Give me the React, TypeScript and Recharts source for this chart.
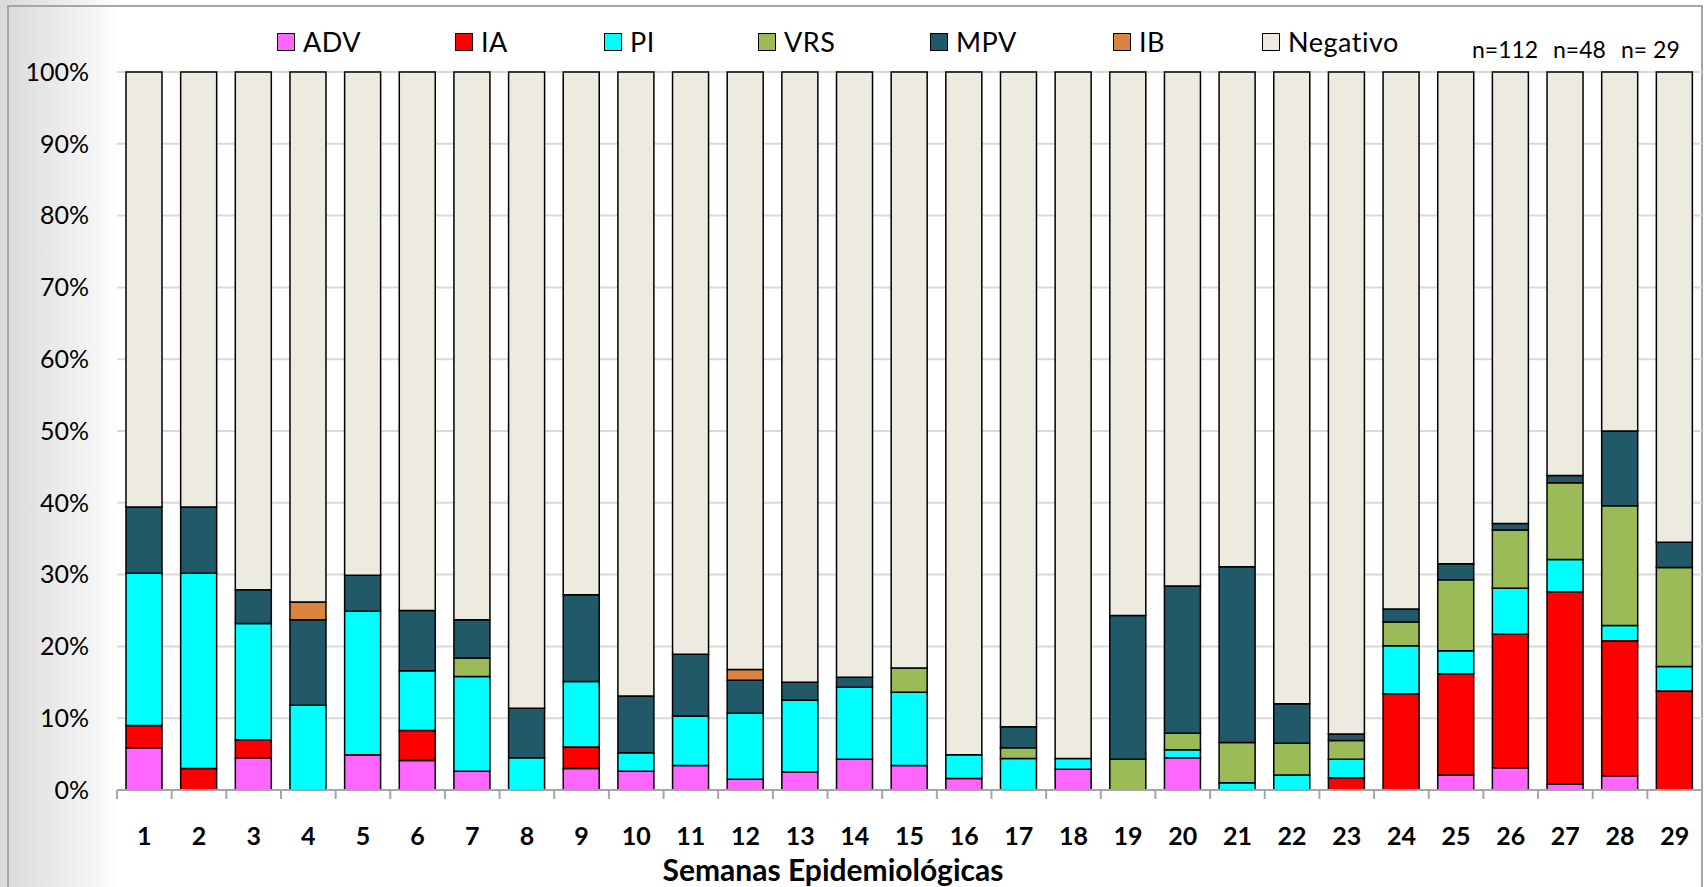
import React from 'react';
import { BarChart, Bar, XAxis, YAxis, CartesianGrid } from 'recharts';

const weeks = ['1','2','3','4','5','6','7','8','9','10','11','12','13','14','15','16','17','18','19','20','21','22','23','24','25','26','27','28','29'];
const adv = [5.9,0,4.5,0,4.9,4.1,2.6,0,3.0,2.6,3.4,1.5,2.5,4.3,3.4,1.6,0,2.9,0,4.5,0,0,0,0,2.1,3.1,0.8,2.0,0];
const ia = [3.1,3.0,2.5,0,0,4.2,0,0,3.0,0,0,0,0,0,0,0,0,0,0,0,0,0,1.7,13.4,14.1,18.6,26.8,18.8,13.8];
const pi = [21.2,27.2,16.2,11.8,20.0,8.3,13.2,4.5,9.1,2.6,6.9,9.2,10.0,10.0,10.2,3.3,4.4,1.5,0,1.1,1.0,2.1,2.6,6.7,3.2,6.4,4.5,2.1,3.4];
const vrs = [0,0,0,0,0,0,2.6,0,0,0,0,0,0,0,3.4,0,1.5,0,4.3,2.3,5.6,4.4,2.6,3.3,9.9,8.1,10.7,16.7,13.8];
const mpv = [9.2,9.2,4.7,11.9,5.0,8.4,5.3,6.9,12.1,7.9,8.6,4.6,2.5,1.4,0,0,2.9,0,20.0,20.5,24.5,5.5,0.9,1.8,2.2,0.9,1.0,10.4,3.5];
const ib = [0,0,0,2.5,0,0,0,0,0,0,0,1.5,0,0,0,0,0,0,0,0,0,0,0,0,0,0,0,0,0];
const negativo = [60.6,60.6,72.1,73.8,70.1,75.0,76.3,88.6,72.8,86.9,81.1,83.2,85.0,84.3,83.0,95.1,91.2,95.6,75.7,71.6,68.9,88.0,92.2,74.8,68.5,62.9,56.2,50.0,65.5];
const yTicks = [0,10,20,30,40,50,60,70,80,90,100];
const nLabels = ['n=112','n=48','n= 29'];

const seriesNames = ['ADV','IA','PI','VRS','MPV','IB','Negativo'];
const seriesValues = [adv, ia, pi, vrs, mpv, ib, negativo];
const seriesColors = ['#FF66FF','#FF0000','#00FFFF','#9BBB59','#215968','#DA8440','#EDEBE0'];

const data = weeks.map((w, i) => {
  const row: any = { week: w };
  seriesNames.forEach((s, k) => { row[s] = seriesValues[k][i]; });
  return row;
});

const W = 1706;
const H = 887;
const X_H = 30;
const M = { top: 72, right: 4, bottom: 97 - X_H, left: 9 };
const Y_W = 108;
const plotLeft = M.left + Y_W;
const plotW = W - M.right - plotLeft;
const catW = plotW / weeks.length;
const FONT = 'Lato, "Open Sans", sans-serif';

const legendX = [277, 455, 604, 758, 930, 1113, 1262];
const nX = [1472, 1553, 1621];

const XTick = (props: any) => {
  const { x, y, payload, index } = props;
  const left = x - catW / 2;
  return (
    <g>
      <line x1={left} x2={left} y1={y} y2={y + 9} stroke="#A6A6A6" strokeWidth={2} />
      {index === weeks.length - 1 && (
        <line x1={x + catW / 2} x2={x + catW / 2} y1={y} y2={y + 9} stroke="#A6A6A6" strokeWidth={2} />
      )}
      <text x={x} y={y + 45} textAnchor="middle" dominantBaseline="central" fontWeight="bold" fontSize={25} fill="#000" fontFamily={FONT}>
        {payload.value}
      </text>
    </g>
  );
};

export default function App() {
  return (
    <div style={{ position: 'absolute', left: 0, top: 0, width: W, height: H, overflow: 'hidden', fontFamily: FONT,
      background: 'linear-gradient(to right, #dadada 0px, #ebebeb 60px, #f7f7f7 100px, #ffffff 118px)' }}>
      <div style={{ position: 'absolute', left: 7, top: 5, width: 1696, height: 900, border: '2px solid #A6A6A6', boxSizing: 'border-box' }} />
      <div style={{ position: 'absolute', left: 0, top: 0 }}>
        <BarChart width={W} height={H} data={data} margin={M} barSize={36}>
          <CartesianGrid vertical={false} stroke="#D9D9D9" strokeWidth={2} />
          <YAxis
            type="number"
            domain={[0, 100]}
            ticks={yTicks}
            interval={0}
            width={Y_W}
            axisLine={false}
            tickLine={false}
            tickSize={0}
            tickMargin={28}
            tickFormatter={(v: number) => `${v}%`}
            tick={{ fontSize: 25, fill: '#000', fontFamily: FONT }}
          />
          <XAxis
            dataKey="week"
            interval={0}
            height={X_H}
            tickLine={false}
            tickSize={0}
            tickMargin={0}
            axisLine={{ stroke: '#A6A6A6', strokeWidth: 2 }}
            tick={<XTick />}
            label={{
              content: () => (
                <text x={833} y={869} textAnchor="middle" dominantBaseline="central" fontWeight="bold" fontSize={30} fill="#000" fontFamily={FONT}>
                  Semanas Epidemiológicas
                </text>
              ),
            }}
          />
          {seriesNames.map((s, k) => (
            <Bar key={s} dataKey={s} name={s} stackId="a" fill={seriesColors[k]} stroke="#000" strokeWidth={1.5} isAnimationActive={false} />
          ))}
        </BarChart>
      </div>
      {seriesNames.map((s, k) => (
        <div key={s} style={{ position: 'absolute', left: legendX[k], top: 31, height: 21, display: 'flex', alignItems: 'center', whiteSpace: 'nowrap' }}>
          <div style={{ width: 18, height: 18, background: seriesColors[k], border: '1.5px solid #000', boxSizing: 'border-box' }} />
          <span style={{ marginLeft: 8, fontSize: 27, color: '#000', lineHeight: '21px', letterSpacing: '0.5px' }}>{s}</span>
        </div>
      ))}
      {nLabels.map((t, k) => (
        <div key={t} style={{ position: 'absolute', left: nX[k], top: 36, fontSize: 23, color: '#000', lineHeight: '26px', whiteSpace: 'pre' }}>{t}</div>
      ))}
    </div>
  );
}
